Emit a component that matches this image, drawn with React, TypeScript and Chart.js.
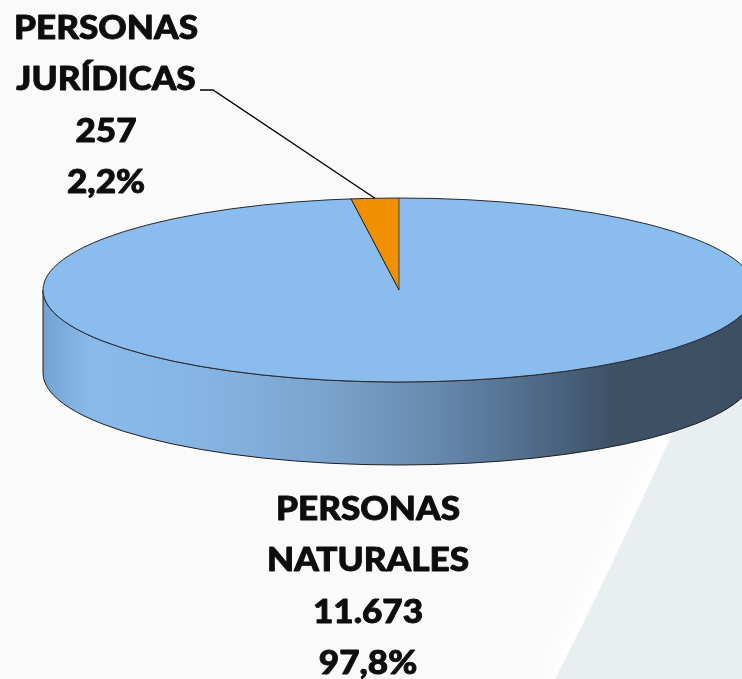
import { useEffect, useRef } from 'react';
import { Chart, registerables } from 'chart.js';

Chart.register(...registerables);

// ---- data ----
const categories = ['PERSONAS NATURALES', 'PERSONAS JURÍDICAS'];
const counts = [11673, 257];
const countLabels = ['11.673', '257'];
const percentLabels = ['97,8%', '2,2%'];
const sliceColors = ['#8bbcee', '#f09000'];

// ---- style constants ----
const RADIUS = 356;
const TILT = 92 / 356;
const DEPTH = 83;
const FONT = '900 33px Lato, "Open Sans", sans-serif';
const TEXT_COLOR = '#0d0d0d';
const LINE_STEP = 51.4;

function drawBlock(ctx: CanvasRenderingContext2D, lines: string[], cx: number, y0: number) {
  ctx.save();
  ctx.font = FONT;
  ctx.fillStyle = TEXT_COLOR;
  ctx.strokeStyle = TEXT_COLOR;
  ctx.lineWidth = 0.9;
  ctx.lineJoin = 'round';
  ctx.textAlign = 'center';
  ctx.textBaseline = 'alphabetic';
  const sx = 184 / ctx.measureText('PERSONAS').width;
  lines.forEach((ln, i) => {
    ctx.save();
    ctx.translate(cx, y0 + i * LINE_STEP);
    ctx.scale(sx, 1);
    ctx.fillText(ln, 0, 0);
    ctx.strokeText(ln, 0, 0);
    ctx.restore();
  });
  ctx.restore();
}

const pie3d = {
  id: 'pie3d',
  beforeDraw(chart: any) {
    const { ctx, width, height } = chart;
    ctx.save();
    ctx.fillStyle = '#fafafa';
    ctx.fillRect(0, 0, width, height);
    ctx.shadowColor = '#ffffff';
    ctx.shadowBlur = 30;
    ctx.shadowOffsetX = -14;
    ctx.fillStyle = '#e9eef1';
    ctx.beginPath();
    ctx.moveTo(705, 360);
    ctx.quadraticCurveTo(626, 540, 555, 679);
    ctx.lineTo(width + 40, height + 40);
    ctx.lineTo(width + 40, 360);
    ctx.closePath();
    ctx.fill();
    ctx.restore();
  },
  beforeDatasetsDraw(chart: any) {
    const { ctx } = chart;
    const arc = chart.getDatasetMeta(0).data[0];
    const cx = arc.x, cy = arc.y, a = arc.outerRadius;
    const b = a * TILT;
    // side wall
    ctx.save();
    ctx.beginPath();
    ctx.ellipse(cx, cy, a, b, 0, 0, Math.PI);
    ctx.lineTo(cx - a, cy + DEPTH);
    ctx.ellipse(cx, cy + DEPTH, a, b, 0, Math.PI, 0, true);
    ctx.closePath();
    const g = ctx.createLinearGradient(cx - a, 0, cx + a, 0);
    g.addColorStop(0, '#72a2d2');
    g.addColorStop(0.066, '#8abaea');
    g.addColorStop(0.22, '#86b5e4');
    g.addColorStop(0.403, '#7aa3cc');
    g.addColorStop(0.557, '#6688ad');
    g.addColorStop(0.698, '#4e6986');
    g.addColorStop(0.796, '#3e5167');
    g.addColorStop(1, '#3c4f64');
    ctx.fillStyle = g;
    ctx.fill();
    ctx.strokeStyle = '#1e1e1e';
    ctx.lineWidth = 1;
    ctx.stroke();
    ctx.restore();
    // squash the top face
    ctx.save();
    ctx.translate(cx, cy);
    ctx.scale(1, TILT);
    ctx.translate(-cx, -cy);
  },
  afterDatasetsDraw(chart: any) {
    const { ctx } = chart;
    ctx.restore();
    const meta = chart.getDatasetMeta(0);
    const arc = meta.data[0];
    const cx = arc.x, cy = arc.y, a = arc.outerRadius;
    const b = a * TILT;
    // top outline
    ctx.save();
    ctx.strokeStyle = '#2a2a2a';
    ctx.lineWidth = 1;
    ctx.beginPath();
    ctx.ellipse(cx, cy, a, b, 0, 0, Math.PI * 2);
    ctx.stroke();
    // slice edges
    meta.data.forEach((el: any, i: number) => {
      const t = el.startAngle;
      ctx.strokeStyle = i === 0 ? '#34495e' : '#111111';
      ctx.beginPath();
      ctx.moveTo(cx, cy);
      ctx.lineTo(cx + a * Math.cos(t), cy + b * Math.sin(t));
      ctx.stroke();
    });
    // leader line for small slice
    const small = meta.data[1];
    const mid = (small.startAngle + small.endAngle) / 2;
    const ax = cx + a * Math.cos(mid), ay = cy + b * Math.sin(mid);
    ctx.strokeStyle = '#000000';
    ctx.lineWidth = 1.4;
    ctx.beginPath();
    ctx.moveTo(200, 90);
    ctx.lineTo(213, 90);
    ctx.lineTo(ax, ay);
    ctx.stroke();
    ctx.restore();
    // labels
    const lines = categories.map((c, i) => [...c.split(' '), countLabels[i], percentLabels[i]]);
    drawBlock(ctx, lines[1], 106, 39);
    drawBlock(ctx, lines[0], 368, 520);
  },
};

export default function App() {
  const ref = useRef<HTMLCanvasElement>(null);
  useEffect(() => {
    if (!ref.current) return;
    const chart = new Chart(ref.current, {
      type: 'pie',
      data: {
        labels: categories,
        datasets: [
          {
            data: counts,
            backgroundColor: sliceColors,
            borderWidth: 0,
            hoverOffset: 0,
            clip: false,
            radius: RADIUS,
          } as any,
        ],
      },
      options: {
        responsive: false,
        animation: false,
        devicePixelRatio: 1,
        events: [],
        radius: RADIUS,
        layout: { padding: { left: 56, right: 0, top: 0, bottom: 99 } },
        plugins: { legend: { display: false }, tooltip: { enabled: false } },
      } as any,
      plugins: [pie3d],
    });
    return () => chart.destroy();
  }, []);
  return (
    <div style={{ position: 'fixed', left: 0, top: 0, width: 742, height: 679, overflow: 'hidden', background: '#fafafa' }}>
      <canvas ref={ref} width={742} height={679} style={{ display: 'block' }} />
    </div>
  );
}
